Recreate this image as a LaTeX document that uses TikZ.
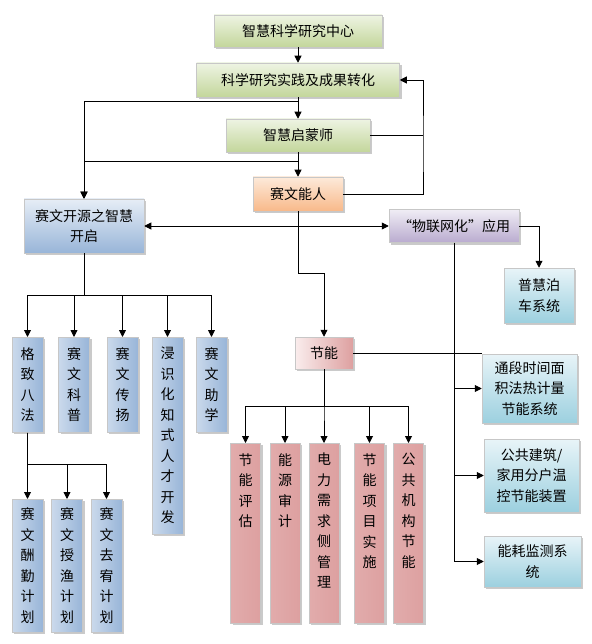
\documentclass[tikz,border=0pt]{standalone}
\usepackage{fontspec}
\newfontfamily\zh{Noto Sans CJK SC}
\usetikzlibrary{arrows.meta,shadows}
\definecolor{grnA}{HTML}{EEF4E3}
\definecolor{grnB}{HTML}{C3D69B}
\definecolor{orgA}{HTML}{FDEADA}
\definecolor{orgB}{HTML}{F8B98A}
\definecolor{bluA}{HTML}{E6EDF6}
\definecolor{bluB}{HTML}{98B5D8}
\definecolor{purA}{HTML}{F0EDF5}
\definecolor{purB}{HTML}{B9ABCF}
\definecolor{cyaA}{HTML}{E8F4F8}
\definecolor{cyaB}{HTML}{9CD0DF}
\definecolor{pnkA}{HTML}{FAEDED}
\definecolor{pnkB}{HTML}{DDA0A0}
\tikzset{
  box/.style={rectangle,draw=black!22,line width=0.5pt,align=center,inner sep=2pt,
    font=\zh\fontsize{14pt}{20.5pt}\selectfont,
    drop shadow={shadow xshift=2pt,shadow yshift=-2pt,opacity=0.35,fill=black!60}},
  greenbox/.style={box,top color=grnA,bottom color=grnB},
  orangebox/.style={box,top color=orgA,bottom color=orgB},
  bluebox/.style={box,top color=bluA,bottom color=bluB},
  purplebox/.style={box,top color=purA,bottom color=purB},
  cyanbox/.style={box,top color=cyaA,bottom color=cyaB},
  pinkbox/.style={box,left color=pnkA,right color=pnkB},
  bluecol/.style={box,anchor=north,minimum width=31pt,left color=bluB!35!bluA,middle color=bluA,right color=bluB},
  pinkcol/.style={box,anchor=north,minimum width=30pt,inner xsep=8pt,inner ysep=10pt,left color=pnkB!85!pnkA,middle color=pnkA,right color=pnkB},
  arr/.style={-{Triangle[length=7pt,width=7pt]},line width=0.9pt},
  biarr/.style={{Triangle[length=7pt,width=7pt]}-{Triangle[length=7pt,width=7pt]},line width=0.9pt},
  link/.style={line width=0.9pt}
}
\begin{document}
\begin{tikzpicture}[x=1pt,y=-1pt]
\useasboundingbox (0,0) rectangle (591,644);
\node[greenbox,minimum width=168pt,minimum height=32pt] (zhcenter) at (298,31) {智慧科学研究中心};
\node[greenbox,minimum width=203pt,minimum height=34pt] (practice) at (298,80) {科学研究实践及成果转化};
\node[greenbox,minimum width=144pt,minimum height=33pt] (mentor) at (298,135.5) {智慧启蒙师};
\node[orangebox,minimum width=90pt,minimum height=34pt] (talent) at (298,194) {赛文能人};
\node[bluebox,minimum width=120pt,minimum height=54pt] (kaiyuan) at (84,226) {赛文开源之智慧\\开启};
\node[purplebox,minimum width=130pt,minimum height=33pt] (iot) at (454,226) {“物联网化”应用};
\node[cyanbox,minimum width=70pt,minimum height=55pt] (parking) at (539,295.5) {普慧泊\\车系统};
\node[pinkbox,minimum width=58pt,minimum height=32pt] (energy) at (324,353) {节能};
\node[cyanbox,minimum width=95pt,minimum height=69pt] (heat) at (529.5,388.5) {通段时间面\\积法热计量\\节能系统};
\node[cyanbox,minimum width=95pt,minimum height=73pt] (thermo) at (531.5,475.5) {公共建筑/\\家用分户温\\控节能装置};
\node[cyanbox,minimum width=97pt,minimum height=51pt] (monitor) at (532.5,561.5) {能耗监测系\\统};
\node[bluecol,minimum height=95pt] (gezhi) at (27.5,337) {格\\致\\八\\法};
\node[bluecol,minimum height=95pt] (kepu) at (74,337) {赛\\文\\科\\普};
\node[bluecol,minimum height=95pt] (chuanyang) at (122.5,337) {赛\\文\\传\\扬};
\node[bluecol,minimum height=197pt] (talentdev) at (167.5,337) {浸\\识\\化\\知\\式\\人\\才\\开\\发};
\node[bluecol,minimum height=95pt] (zhuxue) at (211.5,337) {赛\\文\\助\\学};
\node[bluecol,minimum height=133pt] (chouqin) at (27.5,499) {赛\\文\\酬\\勤\\计\\划};
\node[bluecol,minimum height=133pt] (shouyu) at (67,499) {赛\\文\\授\\渔\\计\\划};
\node[bluecol,minimum height=133pt] (quyou) at (106.5,499) {赛\\文\\去\\宥\\计\\划};
\node[pinkcol] (assess) at (245.5,443) {\parbox[t][160pt][t]{14pt}{\centering 节\\能\\评\\估}};
\node[pinkcol] (audit) at (285,443) {\parbox[t][160pt][t]{14pt}{\centering 能\\源\\审\\计}};
\node[pinkcol] (demand) at (324,443) {\parbox[t][160pt][t]{14pt}{\centering 电\\力\\需\\求\\侧\\管\\理}};
\node[pinkcol] (project) at (369.5,443) {\parbox[t][160pt][t]{14pt}{\centering 节\\能\\项\\目\\实\\施}};
\node[pinkcol] (public) at (408.5,443) {\parbox[t][160pt][t]{14pt}{\centering 公\\共\\机\\构\\节\\能}};
\coordinate (j1) at (298,101);
\coordinate (j2) at (298,161);
\coordinate (loop) at (423,150);
\coordinate (kink) at (298,273);
\coordinate (kbus) at (84,295);
\coordinate (ebus) at (324,406);
\coordinate (gbus) at (27.5,464);
\draw[arr] (zhcenter) -- (practice);
\draw[arr] (practice) -- (mentor);
\draw[arr] (mentor) -- (talent);
\draw[arr] (j1) -| (kaiyuan.north);
\draw[arr] (j2) -| (kaiyuan.north);
\draw[link] (mentor.east) -- (mentor.east -| loop);
\draw[arr] (talent.east) -| (loop) |- (practice.east);
\draw[biarr] (kaiyuan) -- (iot);
\draw[arr] (talent) -- (kink) -| (energy.north);
\draw[arr] (iot.east) -| (parking.north);
\foreach \t in {heat,thermo,monitor}
  \draw[arr] (iot.south) |- (\t.west);
\draw[link] (energy.east) -- (energy.east -| heat.west);
\foreach \t in {gezhi,kepu,chuanyang,talentdev,zhuxue}
  \draw[arr] (kaiyuan) -- (kbus) -| (\t.north);
\foreach \t in {assess,audit,demand,project,public}
  \draw[arr] (energy) -- (ebus) -| (\t.north);
\foreach \t in {chouqin,shouyu,quyou}
  \draw[arr] (gezhi) -- (gbus) -| (\t.north);
\end{tikzpicture}
\end{document}
